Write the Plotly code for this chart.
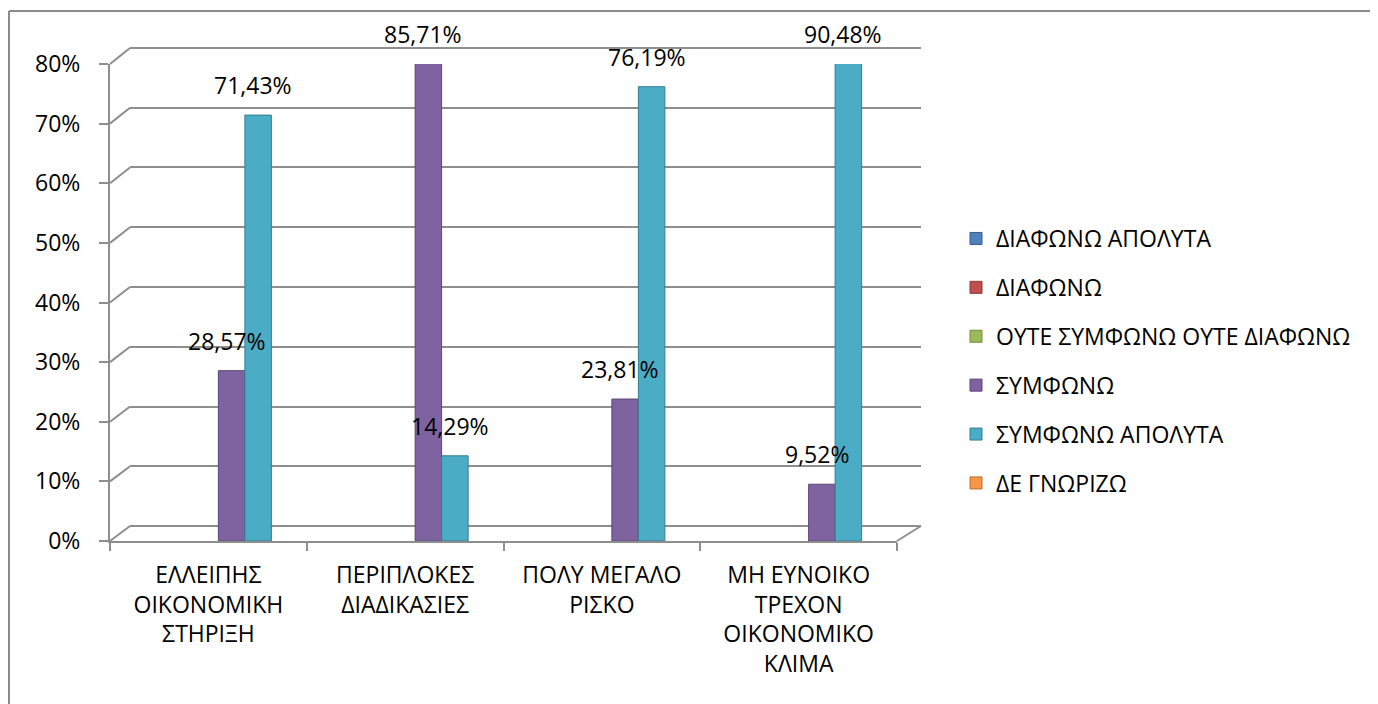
import plotly.graph_objects as go

# ---------------- data ----------------
categories = ["ΕΛΛΕΙΠΗΣ<br>ΟΙΚΟΝΟΜΙΚΗ<br>ΣΤΗΡΙΞΗ",
              "ΠΕΡΙΠΛΟΚΕΣ<br>ΔΙΑΔΙΚΑΣΙΕΣ",
              "ΠΟΛΥ ΜΕΓΑΛΟ<br>ΡΙΣΚΟ",
              "ΜΗ ΕΥΝΟΙΚΟ<br>ΤΡΕΧΟΝ<br>ΟΙΚΟΝΟΜΙΚΟ<br>ΚΛΙΜΑ"]
series_names = ["ΔΙΑΦΩΝΩ ΑΠΟΛΥΤΑ", "ΔΙΑΦΩΝΩ", "ΟΥΤΕ ΣΥΜΦΩΝΩ ΟΥΤΕ ΔΙΑΦΩΝΩ",
                "ΣΥΜΦΩΝΩ", "ΣΥΜΦΩΝΩ ΑΠΟΛΥΤΑ", "ΔΕ ΓΝΩΡΙΖΩ"]
diafono_apolyta = [None, None, None, None]
diafono = [None, None, None, None]
oute = [None, None, None, None]
symfono = [28.57, 85.71, 23.81, 9.52]
symfono_apolyta = [71.43, 14.29, 76.19, 90.48]
de_gnorizo = [None, None, None, None]
series_values = [diafono_apolyta, diafono, oute, symfono, symfono_apolyta, de_gnorizo]
y_ticks = [0, 10, 20, 30, 40, 50, 60, 70, 80]
y_tick_labels = [f"{t}%" for t in y_ticks]

# ---------------- style ----------------
colors = ["#4F81BD", "#C0504D", "#9BBB59", "#7F63A0", "#4BACC6", "#F79646"]
edge_colors = ["#385D8A", "#8C3836", "#71893F", "#5C4776", "#357D91", "#B66D31"]
W, H = 1378, 704
OFF = 8  # page body margin
FONT = "Open Sans"
FS = 23
GRID = "#8E8E8E"


def px(x):
    return (x - OFF) / W


def py(y):
    return 1 - (y - OFF) / H


Y_MAX = 80
PAD = 1.0  # wall axis padding (data units) so the edge gridlines are drawn
front_y = (py(541), py(64))      # front axis domain (0% .. 80%)
wall_unit = (526 - 48) / Y_MAX
back_y = (py(526 + PAD * wall_unit), py(48 - PAD * wall_unit))
back_y0 = (py(526), py(48))
front_x = (px(110), px(897))
back_x = (px(130), px(921))
bars_x = (px(120), px(907))
SLOT = (bars_x[1] - bars_x[0]) * W / 4 * 0.1347  # px per bar slot

fig = go.Figure()

# invisible anchor traces for the wall / front axes
fig.add_trace(go.Scatter(x=[0, 1], y=[0, 0], xaxis="x", yaxis="y", mode="lines",
                         line=dict(width=0), showlegend=False, hoverinfo="skip"))
fig.add_trace(go.Scatter(x=[categories[0]], y=[0], xaxis="x2", yaxis="y2", mode="markers",
                         marker=dict(opacity=0), showlegend=False, hoverinfo="skip"))

for i, (name, vals) in enumerate(zip(series_names, series_values)):
    fig.add_trace(go.Bar(
        x=categories, y=vals, name=name, xaxis="x3", yaxis="y2",
        marker=dict(color=colors[i], line=dict(color=edge_colors[i], width=1)),
        legendgroup=name, hoverinfo="skip",
    ))

# data labels
annotations = []
for i, vals in enumerate(series_values):
    for c, v in zip(categories, vals):
        if v is None:
            continue
        annotations.append(dict(
            x=c, xref="x3", y=min(v, Y_MAX), yref="y2",
            text=f"{v:.2f}".replace(".", ",") + "%",
            showarrow=False, yanchor="middle", xanchor="center",
            xshift=(i - 2.5) * SLOT - 5, yshift=30,
            font=dict(family=FONT, size=FS, color="#000000"),
        ))

# decorative 3D connectors and border
shapes = []
for t in y_ticks:
    yf = front_y[0] + t / Y_MAX * (front_y[1] - front_y[0])
    yb = back_y0[0] + t / Y_MAX * (back_y0[1] - back_y0[0])
    shapes.append(dict(type="line", xref="paper", yref="paper",
                       x0=front_x[0], y0=yf, x1=back_x[0], y1=yb,
                       line=dict(color=GRID, width=2)))
shapes.append(dict(type="line", xref="paper", yref="paper",
                   x0=front_x[1], y0=front_y[0], x1=back_x[1], y1=back_y0[0],
                   line=dict(color=GRID, width=2)))
shapes.append(dict(type="line", xref="paper", yref="paper",
                   x0=px(9), y0=py(11), x1=1.05, y1=py(11),
                   line=dict(color="#8A8A8A", width=2)))
shapes.append(dict(type="line", xref="paper", yref="paper",
                   x0=px(9), y0=py(11), x1=px(9), y1=-0.05,
                   line=dict(color="#8A8A8A", width=2)))

fig.update_layout(
    template="none",
    width=W, height=H, autosize=False,
    margin=dict(l=0, r=0, t=0, b=0, pad=0),
    paper_bgcolor="white", plot_bgcolor="rgba(0,0,0,0)",
    font=dict(family=FONT, size=FS, color="#000000"),
    separators=",.",
    barmode="group", bargap=0.192, bargroupgap=0,
    showlegend=True,
    legend=dict(x=px(956), xanchor="left", y=py(361), yanchor="middle",
                font=dict(family=FONT, size=FS), tracegroupgap=16,
                bgcolor="rgba(0,0,0,0)", borderwidth=0),
    # back wall grid
    xaxis=dict(domain=list(back_x), range=[0, 1], visible=False, anchor="y",
               automargin=False),
    yaxis=dict(domain=list(back_y), range=[-PAD, Y_MAX + PAD], anchor="x",
               tickvals=y_ticks,
               showgrid=True, gridcolor=GRID, gridwidth=2, showticklabels=False,
               zeroline=False, ticks="", showline=False, automargin=False),
    # front axes
    xaxis2=dict(domain=list(front_x), anchor="y2", type="category",
                categoryarray=categories, categoryorder="array", range=[-0.5, 3.5],
                showline=True, linecolor=GRID, linewidth=2,
                ticks="outside", tickson="boundaries", ticklen=8, tickcolor=GRID,
                tickwidth=2, showgrid=False, zeroline=False, automargin=False,
                ticklabelstandoff=12,
                tickfont=dict(family=FONT, size=FS, color="#000000")),
    yaxis2=dict(domain=list(front_y), anchor="x2", range=[0, Y_MAX],
                tickmode="array", tickvals=y_ticks, ticktext=y_tick_labels,
                showline=True, linecolor=GRID, linewidth=2,
                ticks="outside", ticklen=9, tickcolor=GRID, tickwidth=2,
                showgrid=False, zeroline=False, ticklabelstandoff=14, automargin=False,
                tickfont=dict(family=FONT, size=FS, color="#000000")),
    # bars axis (shifted for depth)
    xaxis3=dict(domain=list(bars_x), anchor="y2", type="category",
                categoryarray=categories, categoryorder="array", range=[-0.5, 3.5],
                visible=False, automargin=False),
    annotations=annotations,
    shapes=shapes,
)

fig.write_html("out.html")
